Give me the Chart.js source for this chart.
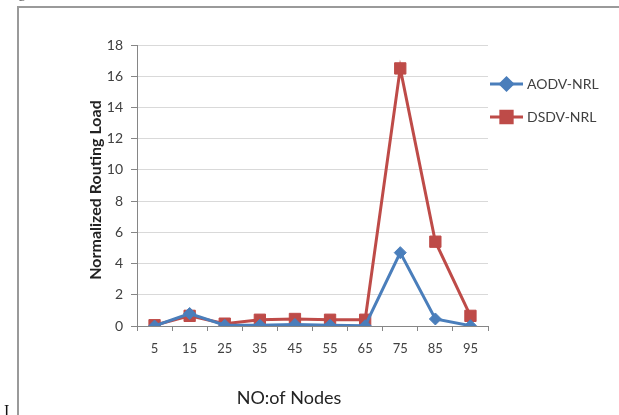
<!DOCTYPE html>
<html>
<head>
<meta charset="utf-8">
<script src="https://cdn.jsdelivr.net/npm/chart.js@4"></script>
<style>
  html, body { margin: 0; padding: 0; background: #ffffff; }
  #wrap { width: 619px; height: 415px; position: relative; }
</style>
</head>
<body>
<div id="wrap"><canvas id="nrlChart" width="619" height="415"></canvas></div>
<script>
// Chart data
const nodeLabels = ['5', '15', '25', '35', '45', '55', '65', '75', '85', '95'];
const aodvNrl = [0, 0.8, 0.05, 0.05, 0.1, 0.05, 0.02, 4.7, 0.45, 0.02];
const dsdvNrl = [0.05, 0.65, 0.15, 0.4, 0.45, 0.4, 0.4, 16.5, 5.4, 0.65];
const yTicks = [0, 2, 4, 6, 8, 10, 12, 14, 16, 18];

const BLUE = '#4a7ebb';
const RED = '#be4b48';
const TEXT = '#404040';
const FONT = 'Lato, "Open Sans", sans-serif';

// Page frame, stray caption letters, axis titles and the legend
const decorPlugin = {
    id: 'decor',
    beforeDraw(chart) {
        const ctx = chart.ctx;
        ctx.save();
        ctx.fillStyle = '#ffffff';
        ctx.fillRect(0, 0, chart.width, chart.height);
        ctx.strokeStyle = '#9a9a9a';
        ctx.lineWidth = 2;
        ctx.beginPath();
        ctx.moveTo(18, 415);
        ctx.lineTo(18, 7);
        ctx.lineTo(619, 7);
        ctx.stroke();
        ctx.restore();
    },
    afterDraw(chart) {
        const ctx = chart.ctx;
        ctx.save();
        // stray letters from the surrounding document
        ctx.fillStyle = '#111111';
        ctx.font = '16px "Liberation Serif", serif';
        ctx.textAlign = 'left';
        ctx.textBaseline = 'alphabetic';
        ctx.fillText('I', 4, 416);
        ctx.fillStyle = '#666666';
        ctx.fillText('g', 18, -3);

        // x axis title
        ctx.fillStyle = '#222222';
        ctx.font = '18px ' + FONT;
        ctx.textAlign = 'center';
        ctx.textBaseline = 'middle';
        ctx.fillText('NO:of Nodes', 289, 398);

        // y axis title
        ctx.save();
        ctx.translate(96, 190);
        ctx.rotate(-Math.PI / 2);
        ctx.font = 'bold 16px ' + FONT;
        ctx.fillStyle = '#222222';
        ctx.fillText('Normalized Routing Load', 0, 0);
        ctx.restore();

        // legend
        const items = [
            { text: 'AODV-NRL', color: BLUE, style: 'rectRot', r: 6, y: 84 },
            { text: 'DSDV-NRL', color: RED, style: 'rect', r: 8, y: 117 }
        ];
        items.forEach(it => {
            ctx.strokeStyle = it.color;
            ctx.lineWidth = 3;
            ctx.beginPath();
            ctx.moveTo(490, it.y);
            ctx.lineTo(523, it.y);
            ctx.stroke();
            Chart.helpers.drawPoint(ctx, { pointStyle: it.style, radius: it.r, borderWidth: 1 }, 506.5, it.y);
            ctx.fillStyle = it.color;
            ctx.fill();
            ctx.fillStyle = TEXT;
            ctx.font = '14px ' + FONT;
            ctx.textAlign = 'left';
            ctx.textBaseline = 'middle';
            ctx.fillText(it.text, 527, it.y);
        });
        ctx.restore();
    }
};

function initNrlChart() {
    const ctx = document.getElementById('nrlChart').getContext('2d');
    return new Chart(ctx, {
        type: 'line',
        data: {
            labels: nodeLabels,
            datasets: [
                {
                    label: 'AODV-NRL',
                    data: aodvNrl,
                    borderColor: BLUE,
                    backgroundColor: BLUE,
                    borderWidth: 3,
                    pointStyle: 'rectRot',
                    pointRadius: 6,
                    pointBorderWidth: 1,
                    tension: 0
                },
                {
                    label: 'DSDV-NRL',
                    data: dsdvNrl,
                    borderColor: RED,
                    backgroundColor: RED,
                    borderWidth: 3,
                    pointStyle: 'rect',
                    pointRadius: 8,
                    pointBorderWidth: 1,
                    tension: 0
                }
            ]
        },
        options: {
            responsive: false,
            animation: false,
            layout: { padding: { top: 45, right: 131, bottom: 0, left: 0 } },
            plugins: {
                legend: { display: false },
                tooltip: { enabled: false }
            },
            scales: {
                x: {
                    offset: true,
                    grid: {
                        offset: true,
                        drawOnChartArea: false,
                        drawTicks: true,
                        tickLength: 5,
                        color: '#868686'
                    },
                    border: { color: '#868686', width: 1 },
                    ticks: {
                        color: TEXT,
                        font: { family: FONT, size: 13 },
                        padding: 10,
                        maxRotation: 0
                    },
                    afterFit: s => { s.height = 89; }
                },
                y: {
                    min: 0,
                    max: 18,
                    afterBuildTicks: s => { s.ticks = yTicks.map(v => ({ value: v })); },
                    grid: {
                        color: '#d9d9d9',
                        tickLength: 6,
                        tickColor: '#868686'
                    },
                    border: { color: '#868686', width: 1 },
                    ticks: {
                        color: TEXT,
                        font: { family: FONT, size: 14 },
                        padding: 8
                    },
                    afterFit: s => { s.width = 137; }
                }
            }
        },
        plugins: [decorPlugin]
    });
}

initNrlChart();
</script>
</body>
</html>
